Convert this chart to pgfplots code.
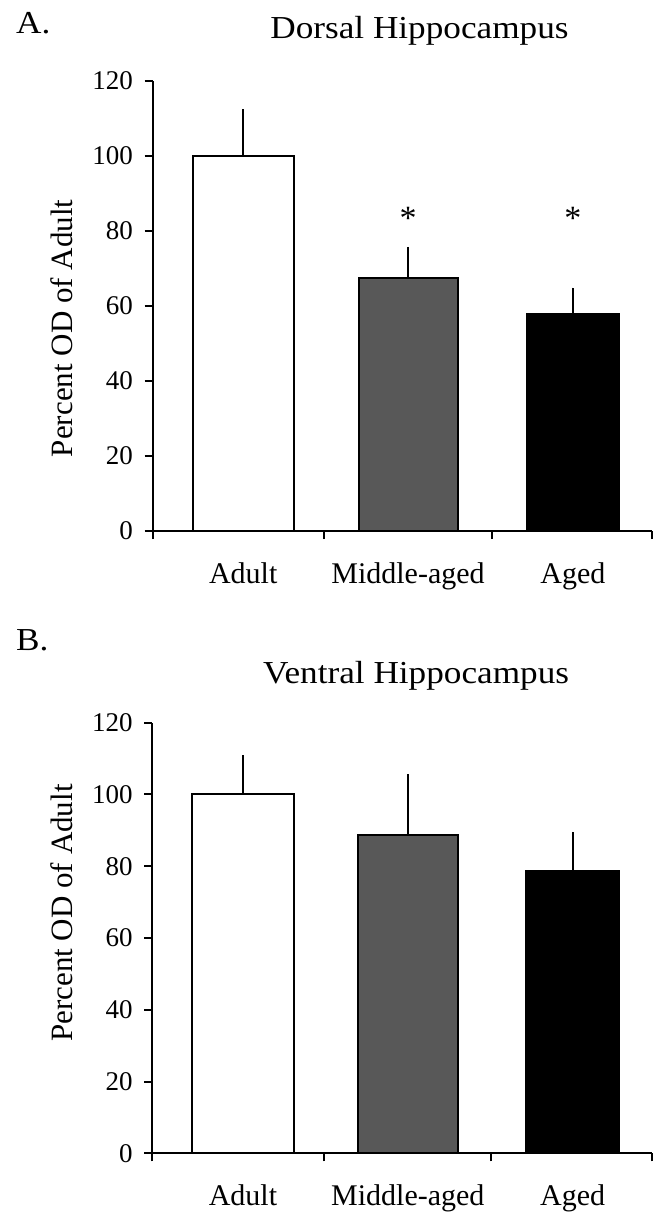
\documentclass[border=0pt]{standalone}
\usepackage{fontspec}
\setmainfont{Liberation Serif}
\newfontfamily\stretchfont{Liberation Serif}[FakeStretch=1.1]
\usepackage{pgfplots}
\pgfplotsset{compat=1.18}
\definecolor{midgray}{RGB}{88,88,88}
\pgfplotsset{
  hippo/.style={
    scale only axis,
    width=249.75pt,
    xmin=-0.55, xmax=2.48,
    ymin=0, ymax=120,
    axis x line*=bottom,
    axis y line*=left,
    axis line style={line width=1pt},
    ytick={0,20,...,120},
    xtick={-0.55,0.49,1.507,2.48},
    xticklabels={},
    extra x ticks={0,1,2},
    extra x tick labels={Adult,Middle-aged,Aged},
    extra x tick style={major tick length=0pt},
    tick align=outside,
    major tick length=4pt,
    tick style={line width=1pt, black},
    /pgf/number format/assume math mode=true,
    yticklabel style={font=\fontsize{13.5}{14}\selectfont, inner sep=0pt, anchor=east, xshift=-5.6pt},
    xticklabel style={font=\fontsize{15}{16}\selectfont, inner sep=0pt, anchor=base, yshift=-26.15pt},
    ylabel={Percent OD of Adult},
    title style={font=\stretchfont\fontsize{16}{17}\selectfont, anchor=base, inner sep=0pt},
    clip=false,
  },
  hbar/.style={ybar, bar shift=0pt, draw=black, line width=1pt,
    error bars/y dir=plus, error bars/y explicit, error bars/error mark=none,
    error bars/error bar style={line width=1pt, black}},
}
\begin{document}
\begin{tikzpicture}
\useasboundingbox (0,0) rectangle (327pt,-606pt);
\node[anchor=base west, inner sep=0pt, font=\stretchfont\fontsize{16}{17}\selectfont] at (7.9pt,-16.5pt) {A.};
\node[anchor=base west, inner sep=0pt, font=\stretchfont\fontsize{16}{17}\selectfont] at (7.9pt,-325pt) {B.};
% Panel A
\begin{axis}[hippo, height=225pt, at={(76.25pt,-265.5pt)}, anchor=south west,
  title={Dorsal Hippocampus},
  title style={at={(axis description cs:0.5345,1.068)}},
  ylabel style={font=\fontsize{15.5}{16}\selectfont, at={(axis description cs:-0.160,0.4504)}, anchor=base, inner sep=0pt}]
\addplot[hbar, fill=white, bar width=50.35pt] coordinates {(0,100) +- (0,12.5)};
\addplot[hbar, fill=midgray, bar width=49.5pt] coordinates {(1,67.4) +- (0,8.4)};
\addplot[hbar, fill=black, bar width=46.15pt] coordinates {(2,57.8) +- (0,7.1)};
\node[font=\fontsize{17}{18}\selectfont] at (axis cs:1,83.5) {*};
\node[font=\fontsize{17}{18}\selectfont] at (axis cs:2,83.5) {*};
\end{axis}
% Panel B
\begin{axis}[hippo, height=215.3pt, at={(76.15pt,-576.65pt)}, anchor=south west,
  title={Ventral Hippocampus},
  title style={at={(axis description cs:0.528,1.0643)}},
  ylabel style={font=\fontsize{15.5}{16}\selectfont, at={(axis description cs:-0.160,0.558)}, anchor=base, inner sep=0pt}]
\addplot[hbar, fill=white, bar width=50.65pt] coordinates {(0,100) +- (0,11.0)};
\addplot[hbar, fill=midgray, bar width=49.95pt] coordinates {(1,88.8) +- (0,16.9)};
\addplot[hbar, fill=black, bar width=46.3pt] coordinates {(2,78.7) +- (0,10.9)};
\end{axis}
\end{tikzpicture}
\end{document}
